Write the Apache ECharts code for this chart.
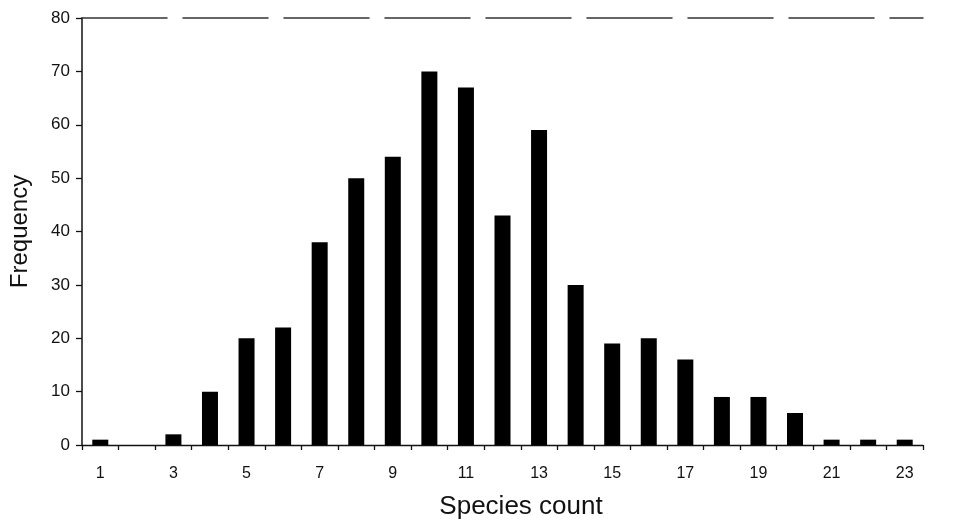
<!DOCTYPE html>
<html>
<head>
<meta charset="utf-8">
<script src="https://cdn.jsdelivr.net/npm/echarts@6/dist/echarts.min.js"></script>
<style>html,body{margin:0;padding:0;background:#fff}#c{width:954px;height:520px}</style>
</head>
<body>
<div id="c"></div>
<script>
var categories = ['1','2','3','4','5','6','7','8','9','10','11','12','13','14','15','16','17','18','19','20','21','22','23'];
var frequency = [1,0,2,10,20,22,38,50,54,70,67,43,59,30,19,20,16,9,9,6,1,1,1];
var yTicks = [0,10,20,30,40,50,60,70,80];

var chart = echarts.init(document.getElementById('c'), null, {renderer:'canvas'});
var font = '"Liberation Sans", Arial, sans-serif';
chart.setOption({
  animation:false,
  grid:{left:82,right:31,top:18,bottom:75,containLabel:false,outerBoundsMode:'none'},
  xAxis:[{
    type:'category',
    data:categories,
    position:'bottom',
    name:'Species count',
    nameLocation:'middle',
    nameGap:49,
    nameTextStyle:{fontFamily:font,fontSize:26,color:'#111',padding:[0,0,0,37]},
    axisLine:{lineStyle:{color:'#111',width:1.3}},
    axisTick:{show:true,alignWithLabel:false,interval:0,length:5,lineStyle:{color:'#111',width:1.3}},
    axisLabel:{interval:1,fontFamily:font,fontSize:16,color:'#111',margin:21}
  },{
    type:'category',
    data:categories,
    position:'top',
    axisLine:{show:true,lineStyle:{color:'#333',width:1.5,type:[85,16]}},
    axisTick:{show:false},
    axisLabel:{show:false}
  }],
  yAxis:{
    type:'value',
    min:0,max:80,interval:10,
    name:'Frequency',
    nameLocation:'middle',
    nameGap:50,
    nameRotate:90,
    nameTextStyle:{fontFamily:font,fontSize:24,color:'#111'},
    axisLine:{show:true,lineStyle:{color:'#111',width:1.5}},
    axisTick:{show:true,length:6,lineStyle:{color:'#111',width:1.3}},
    axisLabel:{fontFamily:font,fontSize:17,color:'#111',margin:12,
      formatter:function(v){return yTicks.indexOf(v)>=0?String(v):'';}},
    splitLine:{show:false}
  },
  series:[{
    type:'bar',
    data:frequency,
    barWidth:16,
    itemStyle:{color:'#000'}
  }]
});
</script>
</body>
</html>
